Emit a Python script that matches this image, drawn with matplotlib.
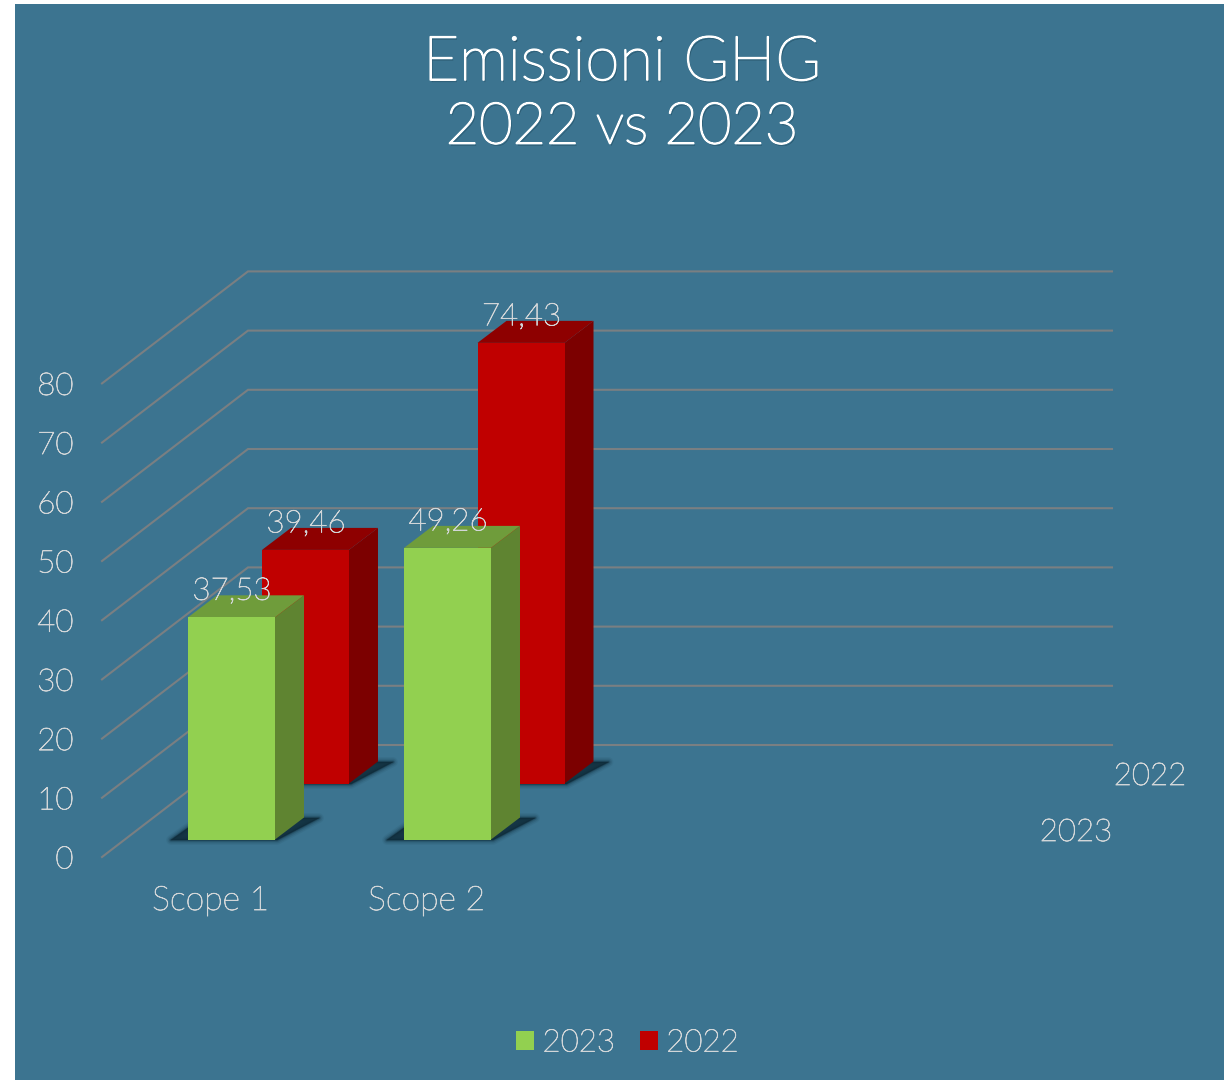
import matplotlib
matplotlib.use("Agg")
import matplotlib.pyplot as plt
from matplotlib.patches import Polygon, Patch
import matplotlib.patheffects as pe

categories = ["Scope 1", "Scope 2"]
series_names = ["2023", "2022"]
values_2023 = [37.53, 49.26]
values_2022 = [39.46, 74.43]
value_labels_2023 = ["37,53", "49,26"]
value_labels_2022 = ["39,46", "74,43"]
y_ticks = [0, 10, 20, 30, 40, 50, 60, 70, 80]

W, H = 1224, 1080
BG = "#3C7490"
TXT = "#D2D6D8"
PX = 5.92            # pixels per value unit
Y0 = 857             # pixel row of value 0 on the front plane
FS = 22.5

plt.rcParams["font.family"] = ["Lato", "DejaVu Sans"]
fig = plt.figure(figsize=(W / 100, H / 100), dpi=100, facecolor="white")
ax = fig.add_axes([0, 0, 1, 1])
ax.set_xlim(0, W)
ax.set_ylim((Y0 - H) / PX, Y0 / PX)   # y axis in value units
ax.axis("off")

THICK = [pe.withStroke(linewidth=0.55, foreground=TXT)]


def py(pixel_row):
    return (Y0 - pixel_row) / PX


def label(x, y, s, size=FS, **kw):
    ax.text(x, y, s, color=TXT, fontsize=size, fontweight="light", va="center_baseline",
            path_effects=THICK, **kw)


# panel
ax.add_patch(Polygon([(15, py(4)), (W, py(4)), (W, py(H)), (15, py(H))],
                     closed=True, fc=BG, ec="none", zorder=0))

# gridlines: side wall + back wall
for v in y_ticks:
    rise = 112 / PX
    ax.plot([102, 248, 1112], [v, v + rise, v + rise], color="#7A7F82", lw=1.5, zorder=1,
            solid_joinstyle="miter")
    label(73.5, v, str(v), ha="right", zorder=6)


def bar(x0, width, base_row, value, front, top, side, z):
    dx, dy = 29, 22 / PX
    b = py(base_row)
    t = b + value
    x1 = x0 + width
    # soft floor shadow
    shadow = [(x0 - 17, b - 0.5 / PX), (x1 + 2, b - 0.5 / PX), (x1 + 44, b + 21.5 / PX), (x0 + 14, b + 21.5 / PX)]
    for lw, a in [(7, .07), (5, .12), (3, .2), (1.5, .35), (0.3, .6)]:
        ax.add_patch(Polygon(shadow, closed=True, fc="#0E2A38", ec="#0E2A38",
                             lw=lw, alpha=a, zorder=z, joinstyle="round"))
    ax.add_patch(Polygon([(x1, b), (x1 + dx, b + dy), (x1 + dx, t + dy), (x1, t)], closed=True, fc=side, ec="none", zorder=z + .1))
    ax.add_patch(Polygon([(x0, t), (x1, t), (x1 + dx, t + dy), (x0 + dx, t + dy)], closed=True, fc=top, ec="none", zorder=z + .1))
    ax.add_patch(Polygon([(x0, b), (x1, b), (x1, t), (x0, t)], closed=True, fc=front, ec="none", zorder=z + .2))
    return (x0 + x1) / 2, t


RED = ("#C00000", "#8E0000", "#7C0000")
GREEN = ("#92D050", "#6F9C3B", "#5F8431")
x_2022 = [262, 477.5]
x_2023 = [188, 404]
for x, v, lab in zip(x_2022, values_2022, value_labels_2022):
    cx, t = bar(x, 87, 783.5, v, *RED, 2)
    label(cx + 0.5, t + 29 / PX, lab, ha="center", zorder=7)
for x, v, lab in zip(x_2023, values_2023, value_labels_2023):
    cx, t = bar(x, 87, 839.5, v, *GREEN, 4)
    label(cx + 0.5, t + 29 / PX, lab, ha="center", zorder=7)

# category labels and depth labels
for c, x in zip(categories, [210.5, 426.5]):
    label(x, py(898), c, size=24.3, ha="center")
label(1150, py(773.5), series_names[1], ha="center")
label(1076, py(829.5), series_names[0], ha="center")

# title
shadow_fx = [pe.withSimplePatchShadow(offset=(1, -1.5), shadow_rgbFace="#10303F", alpha=.45),
             pe.withStroke(linewidth=1.2, foreground="#FFFFFF")]
for line, row, size in zip(["Emissioni GHG", "2022 vs 2023"], [57.5, 122.5], [44.5, 41.5]):
    ax.text(622, py(row), line, color="#FFFFFF", fontsize=size, fontweight="light", ha="center",
            va="center_baseline", path_effects=shadow_fx, zorder=8)

# legend
handles = [Patch(fc=GREEN[0], ec="none", label=series_names[0]), Patch(fc=RED[0], ec="none", label=series_names[1])]
leg = ax.legend(handles=handles, ncol=2, frameon=False, loc="center", bbox_to_anchor=(627.5 / W, 1 - 1043 / H),
                bbox_transform=ax.transAxes, handlelength=.58, handleheight=.58, handletextpad=.26,
                columnspacing=.8, labelcolor=TXT, prop={"size": FS, "weight": "light"})
for t in leg.get_texts():
    t.set_path_effects(THICK)

fig.savefig("out.png", dpi=100, facecolor="white")
